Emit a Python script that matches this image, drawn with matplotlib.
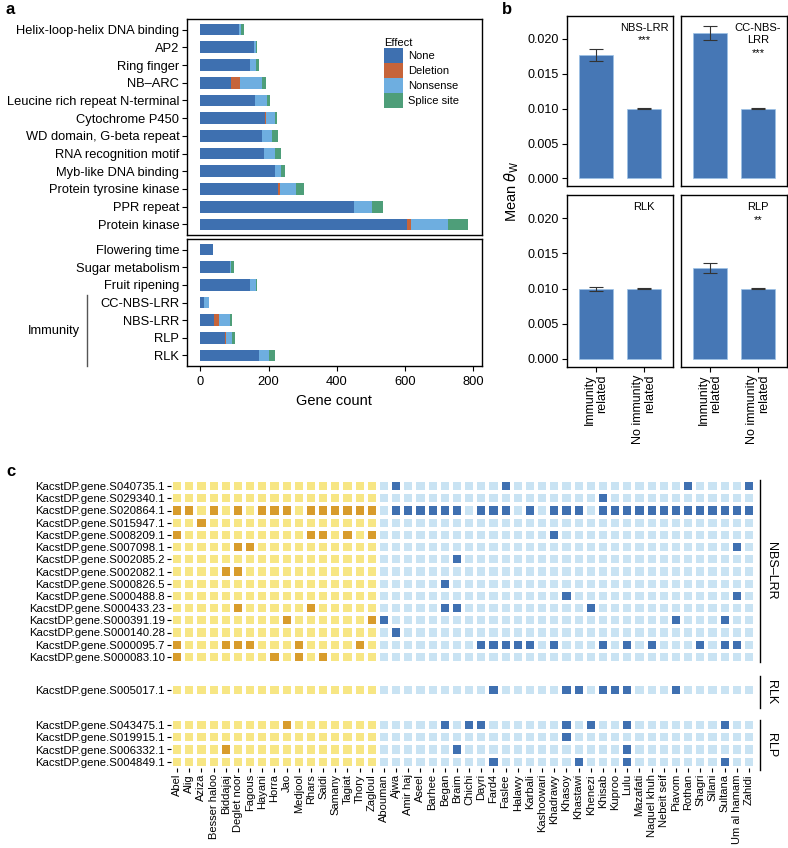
import matplotlib
matplotlib.use('Agg')
import matplotlib.pyplot as plt
import matplotlib.transforms as mtrans
from matplotlib.patches import Patch
from matplotlib.lines import Line2D
from matplotlib.colors import ListedColormap
import numpy as np

plt.rcParams['font.family'] = ['Liberation Sans', 'DejaVu Sans']
plt.rcParams['mathtext.fontset'] = 'dejavusans'

# ---------------- data: panel a ----------------
effects = ['None', 'Deletion', 'Nonsense', 'Splice site']
domains = ['Helix-loop-helix DNA binding', 'AP2', 'Ring finger', 'NB\u2013ARC',
           'Leucine rich repeat N-terminal', 'Cytochrome P450', 'WD domain, G-beta repeat',
           'RNA recognition motif', 'Myb-like DNA binding', 'Protein tyrosine kinase',
           'PPR repeat', 'Protein kinase']
dom_none = [113, 156, 146, 91, 161, 188, 180, 187, 220, 227, 451, 605]
dom_deletion = [0, 0, 0, 26, 0, 3, 0, 0, 0, 5, 0, 12]
dom_nonsense = [6, 6, 17, 64, 34, 28, 29, 32, 16, 49, 52, 108]
dom_splice = [8, 5, 8, 10, 9, 6, 18, 16, 13, 24, 31, 60]

traits = ['Flowering time', 'Sugar metabolism', 'Fruit ripening', 'CC-NBS-LRR',
          'NBS-LRR', 'RLP', 'RLK']
tr_none = [36, 86, 146, 12, 41, 71, 171]
tr_deletion = [0, 0, 0, 0, 15, 5, 0]
tr_nonsense = [1, 4, 18, 12, 32, 17, 29]
tr_splice = [0, 9, 2, 0, 5, 7, 18]
immunity_rows = ['CC-NBS-LRR', 'NBS-LRR', 'RLP', 'RLK']

# ---------------- data: panel b ----------------
b_names = ['NBS-LRR', 'CC-NBS-\nLRR', 'RLK', 'RLP']
b_signif = ['***', '***', '', '**']
b_groups = ['Immunity\nrelated', 'No immunity\nrelated']
imm_mean = [0.0177, 0.0209, 0.0099, 0.0129]
imm_err = [0.0009, 0.0010, 0.0003, 0.0007]
non_mean = [0.0100, 0.0100, 0.0100, 0.0100]
non_err = [0.00004, 0.00004, 0.00004, 0.00004]

# ---------------- data: panel c ----------------
cult_yellow = ['Abel', 'Alig', 'Aziza', 'Besser haloo', 'Biddajaj', 'Deglet noor', 'Fagous',
               'Hayani', 'Horra', 'Jao', 'Medjool', 'Rhars', 'Saidi', 'Samany', 'Tagiat',
               'Thory', 'Zagloul']
cult_blue = ['Abouman', 'Ajwa', 'Amir haj', 'Aseel', 'Barhee', 'Began', 'Braim', 'Chichi',
             'Dayri', 'Fard4', 'Faslee', 'Halawy', 'Karbali', 'Kashoowari', 'Khadrawy',
             'Khasoy', 'Khastawi', 'Khenezi', 'Khisab', 'Kuproo', 'Lulu', 'Mazafati',
             'Naquel khuh', 'Nebeit seif', 'Piavom', 'Rothan', 'Shagri', 'Silani', 'Sultana',
             'Um al hamam', 'Zahidi']
nbs_genes = ['KacstDP.gene.S040735.1', 'KacstDP.gene.S029340.1', 'KacstDP.gene.S020864.1',
             'KacstDP.gene.S015947.1', 'KacstDP.gene.S008209.1', 'KacstDP.gene.S007098.1',
             'KacstDP.gene.S002085.2', 'KacstDP.gene.S002082.1', 'KacstDP.gene.S000826.5',
             'KacstDP.gene.S000488.8', 'KacstDP.gene.S000433.23', 'KacstDP.gene.S000391.19',
             'KacstDP.gene.S000140.28', 'KacstDP.gene.S000095.7', 'KacstDP.gene.S000083.10']
nbs_hits = [[18, 27, 42, 47],
            [35],
            [0, 1, 3, 5, 7, 8, 9, 11, 12, 13, 14, 15, 16, 18, 19, 20, 21, 22, 23, 25, 26, 27,
             29, 31, 32, 33, 35, 36, 37, 38, 39, 40, 41, 42, 43, 44, 45, 46, 47],
            [2],
            [0, 11, 12, 14, 16, 31],
            [5, 6, 46],
            [23],
            [4, 5],
            [22],
            [32, 46],
            [5, 11, 22, 23, 34],
            [9, 16, 17, 41, 45],
            [18],
            [0, 4, 5, 6, 10, 15, 25, 26, 27, 28, 29, 31, 35, 37, 39, 43, 45, 46],
            [0, 8, 10, 12]]
rlk_genes = ['KacstDP.gene.S005017.1']
rlk_hits = [[26, 32, 33, 35, 36, 37, 41]]
rlp_genes = ['KacstDP.gene.S043475.1', 'KacstDP.gene.S019915.1', 'KacstDP.gene.S006332.1',
             'KacstDP.gene.S004849.1']
rlp_hits = [[9, 22, 24, 25, 32, 34, 37, 45],
            [32],
            [4, 23, 37],
            [26, 33, 37, 45]]

# ---------------- figure ----------------
W, H = 788, 848
fig = plt.figure(figsize=(W / 100, H / 100), dpi=100)


def axpx(l, t, r, b):
    return fig.add_axes([l / W, 1 - b / H, (r - l) / W, (b - t) / H])


eff_colors = ['#3e70b0', '#c6643a', '#6eaee0', '#4e9e79']


def stacked(ax, cats, parts):
    y = np.arange(len(cats))
    left = np.zeros(len(cats))
    for vals, c, lab in zip(parts, eff_colors, effects):
        ax.barh(y, vals, left=left, height=0.66, color=c, label=lab, linewidth=0)
        left = left + np.array(vals)
    ax.set_yticks(y, cats)
    ax.set_ylim(len(cats) - 0.4, -0.6)
    ax.set_xlim(-39.3, 824.3)
    ax.tick_params(axis='y', length=3.5, width=0.8, labelsize=9.3, pad=2)
    for s in ax.spines.values():
        s.set_linewidth(1.0)


ax_a1 = axpx(187, 19, 481.5, 235)
stacked(ax_a1, domains, [dom_none, dom_deletion, dom_nonsense, dom_splice])
ax_a1.tick_params(axis='x', bottom=False, labelbottom=False)

ax_a2 = axpx(187, 239, 481.5, 366)
stacked(ax_a2, traits, [tr_none, tr_deletion, tr_nonsense, tr_splice])
ax_a2.set_xticks([0, 200, 400, 600, 800])
ax_a2.tick_params(axis='x', length=3.5, width=0.8, labelsize=9.3, pad=4)
ax_a2.set_xlabel('Gene count', fontsize=10.5, labelpad=4)

trans = mtrans.blended_transform_factory(ax_a2.transAxes, ax_a2.transData)
imm_idx = [traits.index(t) for t in immunity_rows]
ax_a2.plot([-0.34, -0.34], [min(imm_idx) - 0.4, max(imm_idx) + 0.6], transform=trans,
           color='#555555', lw=1, clip_on=False)
ax_a2.text(-0.365, np.mean(imm_idx) + 0.1, 'Immunity', transform=trans, ha='right',
           va='center', fontsize=9.3)

handles = [Patch(facecolor=c, edgecolor='none', label=l) for c, l in zip(eff_colors, effects)]
leg = fig.legend(handles=handles, loc='upper left', bbox_to_anchor=(384 / W, 1 - 38 / H),
                 frameon=False, title='Effect', fontsize=8, title_fontsize=8,
                 handlelength=1.7, handleheight=1.7, labelspacing=0, handletextpad=0.45,
                 borderpad=0, borderaxespad=0, alignment='left')

# ---------------- panel b ----------------
b_rects = [(566.7, 16, 673.3, 186), (681.3, 16, 787, 186),
           (566.7, 195, 673.3, 366.7), (681.3, 195, 787, 366.7)]
for k, rect in enumerate(b_rects):
    ax = axpx(*rect)
    ax.bar([0, 1], [imm_mean[k], non_mean[k]], yerr=[imm_err[k], non_err[k]], width=0.72,
           color='#4677b5', edgecolor='#9cc2e6', linewidth=0.5,
           error_kw=dict(ecolor='#333333', elinewidth=0.8, capsize=5, capthick=0.8))
    ax.set_xlim(-0.61, 1.61)
    ax.set_ylim(-0.0011, 0.0233)
    for s in ax.spines.values():
        s.set_linewidth(1.0)
    if k % 2 == 0:
        ax.set_yticks([0, 0.005, 0.01, 0.015, 0.02],
                      ['0.000', '0.005', '0.010', '0.015', '0.020'])
        ax.tick_params(axis='y', length=3.5, width=0.8, labelsize=9, pad=2)
    else:
        ax.set_yticks([])
    if k >= 2:
        ax.set_xticks([0, 1])
        ax.set_xticklabels(b_groups, rotation=90, ha='center', va='top',
                           multialignment='right', fontsize=9, linespacing=1.05)
        ax.tick_params(axis='x', length=3.5, width=0.8, pad=2)
    else:
        ax.set_xticks([])
    lines = b_names[k].split('\n') + ([b_signif[k]] if b_signif[k] else [])
    for i, t in enumerate(lines):
        ax.text(1, 0.928 - 0.072 * i, t, transform=mtrans.blended_transform_factory(
            ax.transData, ax.transAxes), ha='center', va='center', fontsize=8)

fig.text(512 / W, 1 - 191 / H, r'Mean $\theta_{\rm W}$', rotation=90, ha='center',
         va='center', fontsize=10.5)

# ---------------- panel c ----------------
cultivars = cult_yellow + cult_blue
ncol = len(cultivars)
cmap = ListedColormap(['#f7e684', '#d89c2c', '#c9e3f3', '#3f70b1'])


def hitmat(hits):
    M = np.zeros((len(hits), ncol))
    for i, h in enumerate(hits):
        for j in range(ncol):
            M[i, j] = (0 if j < len(cult_yellow) else 2) + (1 if j in h else 0)
    return M


def heat(ax, genes, hits, xlabels):
    M = hitmat(hits)
    n = len(genes)
    ax.pcolormesh(np.arange(ncol + 1) - 0.5, np.arange(n + 1) - 0.5, M, cmap=cmap,
                  vmin=-0.5, vmax=3.5, edgecolors='white', linewidth=1.6)
    ax.set_xlim(-0.5, ncol - 0.5)
    ax.set_ylim(n - 0.5, -0.5)
    ax.set_yticks(np.arange(n), genes)
    ax.tick_params(axis='y', length=3, width=0.8, labelsize=8.2, pad=1.5)
    for s in ax.spines.values():
        s.set_visible(False)
    if xlabels:
        ax.set_xticks(np.arange(ncol))
        ax.set_xticklabels(cultivars, rotation=90, fontsize=8)
        ax.tick_params(axis='x', length=3, width=0.8, pad=1.5)
    else:
        ax.set_xticks([])


pitch = 12.2
x0, x1 = 171, 755
t_nbs = 480
t_rlk = 684
t_rlp = 719
ax_nbs = axpx(x0, t_nbs, x1, t_nbs + pitch * len(nbs_genes))
heat(ax_nbs, nbs_genes, nbs_hits, False)
ax_rlk = axpx(x0, t_rlk, x1, t_rlk + pitch * len(rlk_genes))
heat(ax_rlk, rlk_genes, rlk_hits, False)
ax_rlp = axpx(x0, t_rlp, x1, t_rlp + pitch * len(rlp_genes))
heat(ax_rlp, rlp_genes, rlp_hits, True)

strips = [('NBS\u2013LRR', 480, 662), ('RLK', 676, 708), ('RLP', 720, 770)]
for lab, ya, yb in strips:
    fig.add_artist(Line2D([760 / W, 760 / W], [1 - ya / H, 1 - yb / H], color='black',
                          lw=1.0, transform=fig.transFigure))
    fig.text(771 / W, 1 - (ya + yb) / 2 / H, lab, rotation=270, ha='center', va='center',
             fontsize=9)

# panel letters
fig.text(6 / W, 1 - 10 / H, 'a', fontsize=12, fontweight='bold', va='center')
fig.text(502 / W, 1 - 10 / H, 'b', fontsize=12, fontweight='bold', va='center')
fig.text(6 / W, 1 - 472 / H, 'c', fontsize=12, fontweight='bold', va='center')

fig.savefig('out.png', dpi=100)
